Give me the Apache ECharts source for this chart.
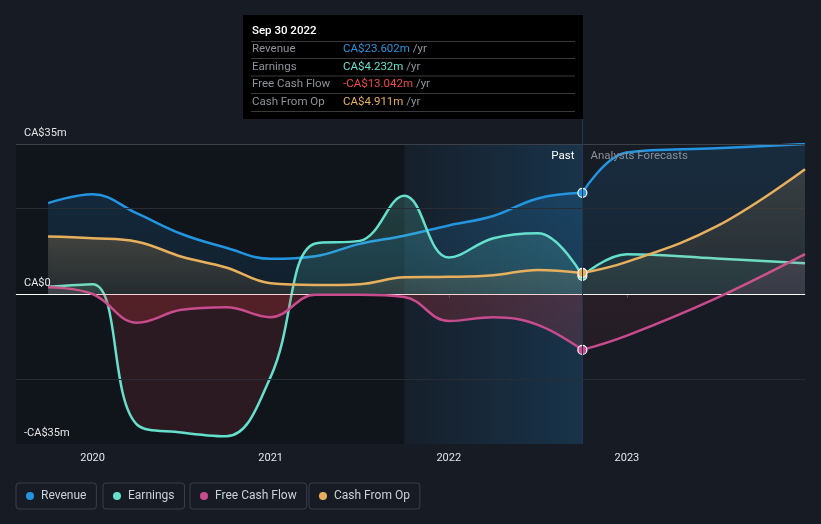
<!DOCTYPE html>
<html><head><meta charset="utf-8">
<script src="https://cdn.jsdelivr.net/npm/echarts@6/dist/echarts.min.js"></script>
<style>html,body{margin:0;padding:0;background:#161b24;}#c{width:821px;height:524px;}</style>
</head><body><div id="c"></div>
<script>
// ---- data (CA$ millions, x = decimal year) ----
const pastDates      = [2019.75, 2020.0, 2020.25, 2020.5, 2020.75, 2021.0, 2021.25, 2021.5, 2021.75, 2022.0, 2022.25, 2022.5, 2022.75];
const revenuePast    = [21.2, 23.3, 18.8, 14.0, 10.8, 8.2, 8.8, 11.7, 13.6, 16.0, 18.2, 22.3, 23.602];
const earningsPast   = [1.7, 2.3, -30.5, -32.3, -33.2, -19.3, 11.8, 12.4, 22.9, 8.5, 13.0, 14.2, 4.232];
const fcfPast        = [1.6, 0.0, -6.7, -3.7, -3.1, -5.4, -0.2, -0.2, -0.7, -6.3, -5.4, -7.2, -13.042];
const cashOpPast     = [13.4, 13.0, 12.2, 8.7, 6.2, 2.5, 2.1, 2.3, 3.9, 4.0, 4.4, 5.6, 4.911];
const forecastDates    = [2022.75, 2023.0, 2023.5, 2024.0];
const revenueForecast  = [23.602, 33.0, 34.0, 35.0];
const earningsForecast = [4.232, 9.3, 8.3, 7.2];
const fcfForecast      = [-13.042, -9.7, -1.0, 9.3];
const cashOpForecast   = [4.911, 7.5, 15.7, 29.1];
const xTicks = [2020, 2021, 2022, 2023];
const gridLinesY = [35, 20, -20];
const seriesNames = ['Revenue', 'Earnings', 'Free Cash Flow', 'Cash From Op'];
const tooltipDate = 'Sep 30 2022';
const highlightStart = 2021.75;
const X_MIN = 2019.57, X_MAX = 2024.0, Y_MIN = -35, Y_MAX = 35;

// ---- styling ----
const COLORS = ['#2394e0', '#64e0cc', '#c84b8e', '#e8b05c'];
const VALUE_COLORS = ['#2394e0', '#64e0cc', '#f04848', '#e8b05c'];
const FONT = 'Roboto, "Noto Sans", sans-serif';
const GRID = {left: 16, right: 16, top: 144, bottom: 80};
const H = 524;
const plotTop = GRID.top, plotBottom = H - GRID.bottom;
const zeroOff = Y_MAX / (Y_MAX - Y_MIN);

function pairs(xs, ys) { return xs.map((x, i) => [x, ys[i]]); }
function vgrad(c0, c1) { return new echarts.graphic.LinearGradient(0, 0, 0, 1, [{offset: 0, color: c0}, {offset: 1, color: c1}]); }
function splitGrad(posTop, posZero, negZero, negBottom) {
  return new echarts.graphic.LinearGradient(0, plotTop, 0, plotBottom, [
    {offset: 0, color: posTop}, {offset: zeroOff, color: posZero},
    {offset: zeroOff, color: negZero}, {offset: 1, color: negBottom}], true);
}

const areas = {
  past: [
    vgrad('rgba(35,148,224,0.24)', 'rgba(35,148,224,0.12)'),
    splitGrad('rgba(100,224,204,0.36)', 'rgba(100,224,204,0.18)', 'rgba(215,60,72,0.2)', 'rgba(215,60,72,0.2)'),
    splitGrad('rgba(200,75,142,0.2)', 'rgba(200,75,142,0.15)', 'rgba(225,55,62,0.32)', 'rgba(225,55,62,0.12)'),
    vgrad('rgba(232,176,92,0.3)', 'rgba(232,176,92,0.12)')
  ],
  fc: [
    vgrad('rgba(35,148,224,0.2)', 'rgba(35,148,224,0.1)'),
    splitGrad('rgba(100,224,204,0.2)', 'rgba(100,224,204,0.1)', 'rgba(215,60,72,0.1)', 'rgba(215,60,72,0.1)'),
    splitGrad('rgba(200,75,142,0.22)', 'rgba(200,75,142,0.15)', 'rgba(225,55,62,0.12)', 'rgba(225,55,62,0.06)'),
    vgrad('rgba(232,176,92,0.22)', 'rgba(232,176,92,0.08)')
  ]
};

const pastData = [revenuePast, earningsPast, fcfPast, cashOpPast];
const fcData = [revenueForecast, earningsForecast, fcfForecast, cashOpForecast];

function lineSeries(i, xs, ys, area, markLast) {
  const data = pairs(xs, ys).map((p, k) => {
    if (markLast && k === xs.length - 1) {
      return {value: p, symbol: 'circle', symbolSize: 9, itemStyle: {color: COLORS[i], borderColor: '#ffffff', borderWidth: 1.2}};
    }
    return {value: p};
  });
  return {
    type: 'line', name: seriesNames[i], data: data, z: 3 + i,
    smooth: 0.4, symbol: 'none', showSymbol: true,
    lineStyle: {color: COLORS[i], width: 2.5}, itemStyle: {color: COLORS[i]},
    areaStyle: {color: area, origin: 0}, silent: true
  };
}

const series = [{
  type: 'line', data: [], z: 1, silent: true,
  markArea: {silent: true, data: [
    [{xAxis: X_MIN, yAxis: Y_MIN, itemStyle: {color: '#10141b'}}, {xAxis: highlightStart, yAxis: Y_MAX}],
    [{xAxis: highlightStart, yAxis: Y_MIN, itemStyle: {color: new echarts.graphic.LinearGradient(0, 0, 1, 0, [
      {offset: 0, color: 'rgba(35,148,224,0.03)'}, {offset: 1, color: 'rgba(35,148,224,0.2)'}])}},
     {xAxis: pastDates[pastDates.length - 1], yAxis: Y_MAX}]
  ]},
  markLine: {silent: true, symbol: ['none', 'none'], label: {show: false},
    data: gridLinesY.map(v => ({yAxis: v, lineStyle: {color: v === Y_MAX ? '#3b4049' : '#272c35', width: 1, type: 'solid'}}))
      .concat([{yAxis: 0, lineStyle: {color: '#ffffff', width: 1.2, type: 'solid'}}])}
}];
for (let i = 0; i < 4; i++) series.push(lineSeries(i, forecastDates, fcData[i], areas.fc[i], false));
for (let i = 0; i < 4; i++) series.push(lineSeries(i, pastDates, pastData[i], areas.past[i], true));

const legendLefts = [16, 103, 190, 309];
const option = {
  animation: false,
  backgroundColor: '#161b24',
  grid: GRID,
  xAxis: {
    type: 'value', min: X_MIN, max: X_MAX,
    axisLine: {show: true, lineStyle: {color: '#4a4f58', width: 1}},
    axisTick: {show: true, customValues: xTicks, length: 4, lineStyle: {color: '#4a4f58'}},
    axisLabel: {customValues: xTicks, color: '#e2e4e8', fontSize: 11, fontFamily: FONT, margin: 9, formatter: v => String(Math.round(v))},
    splitLine: {show: false}
  },
  yAxis: {
    type: 'value', min: Y_MIN, max: Y_MAX, interval: 35, z: 20,
    axisLine: {show: false}, axisTick: {show: false}, splitLine: {show: false},
    axisLabel: {
      inside: true, margin: 8, color: '#e6e6e6', fontSize: 11, fontFamily: FONT,
      align: 'left', verticalAlign: 'bottom', padding: [0, 0, 5, 0],
      showMinLabel: true, showMaxLabel: true,
      formatter: v => v === 0 ? 'CA$0' : (v < 0 ? '-CA$' + Math.abs(v) + 'm' : 'CA$' + v + 'm')
    }
  },
  legend: seriesNames.map((n, i) => ({
    data: [n], left: legendLefts[i], top: 483, icon: 'circle', itemWidth: 12, itemHeight: 8,
    padding: [7, 10, 7, 10], borderColor: '#3a3f48', borderWidth: 1, borderRadius: 3,
    selectedMode: false, textStyle: {color: '#cdd1d6', fontSize: 12, fontFamily: FONT}
  })),
  series: series
};

const chart = echarts.init(document.getElementById('c'));
chart.setOption(option);

// ---- overlay: divider, past/forecast labels, static tooltip ----
const lastIdx = pastDates.length - 1;
const xLine = Math.round(chart.convertToPixel({xAxisIndex: 0}, pastDates[lastIdx])) + 0.5;
const yBottom = chart.convertToPixel({yAxisIndex: 0}, Y_MIN);
const yTopPlot = chart.convertToPixel({yAxisIndex: 0}, Y_MAX);
const tipRight = xLine + 0.5, tipW = 340, tipTop = 15, tipH = 104;
const tipLeft = tipRight - tipW;

function fmt(v) { return (v < 0 ? '-' : '') + 'CA$' + Math.abs(v).toFixed(3) + 'm'; }
const rowVals = pastData.map(a => a[lastIdx]);
const rowY = [49.5, 67, 84.5, 102];
const sepY = [41.5, 58.5, 76, 93.5, 111.5];
const TF = '11.5px ' + FONT;

const g = [];
g.push({type: 'line', z: 50, silent: true, shape: {x1: xLine, y1: tipTop + tipH, x2: xLine, y2: yBottom}, style: {stroke: '#1f3852', lineWidth: 1}});
g.push({type: 'rect', z: 60, silent: true, shape: {x: tipLeft, y: tipTop, width: tipW, height: tipH}, style: {fill: '#000000'}});
g.push({type: 'text', z: 61, silent: true, x: tipLeft + 9, y: 31, style: {text: tooltipDate, fill: '#ffffff', font: '500 11.5px ' + FONT, align: 'left', verticalAlign: 'middle'}});
sepY.forEach(y => g.push({type: 'line', z: 61, silent: true, shape: {x1: tipLeft + 8, y1: y, x2: tipRight - 8, y2: y}, style: {stroke: '#3a3a3a', lineWidth: 1}}));
seriesNames.forEach((lab, i) => {
  g.push({type: 'text', z: 61, silent: true, x: tipLeft + 9, y: rowY[i], style: {text: lab, fill: '#8e939a', font: TF, align: 'left', verticalAlign: 'middle'}});
  g.push({type: 'text', z: 61, silent: true, x: tipLeft + 100, y: rowY[i], style: {
    text: '{v|' + fmt(rowVals[i]) + '} {u|/yr}', align: 'left', verticalAlign: 'middle', font: TF,
    rich: {v: {fill: VALUE_COLORS[i], fontSize: 11.5, fontFamily: FONT}, u: {fill: '#8e939a', fontSize: 11.5, fontFamily: FONT}}}});
});
g.push({type: 'text', z: 40, silent: true, x: xLine - 8, y: yTopPlot + 12, style: {text: 'Past', fill: '#ffffff', font: '11.5px ' + FONT, align: 'right', verticalAlign: 'middle'}});
g.push({type: 'text', z: 40, silent: true, x: xLine + 8, y: yTopPlot + 12, style: {text: 'Analysts Forecasts', fill: '#8a8f98', font: '11.5px ' + FONT, align: 'left', verticalAlign: 'middle'}});
chart.setOption({graphic: g});
</script>
</body></html>
